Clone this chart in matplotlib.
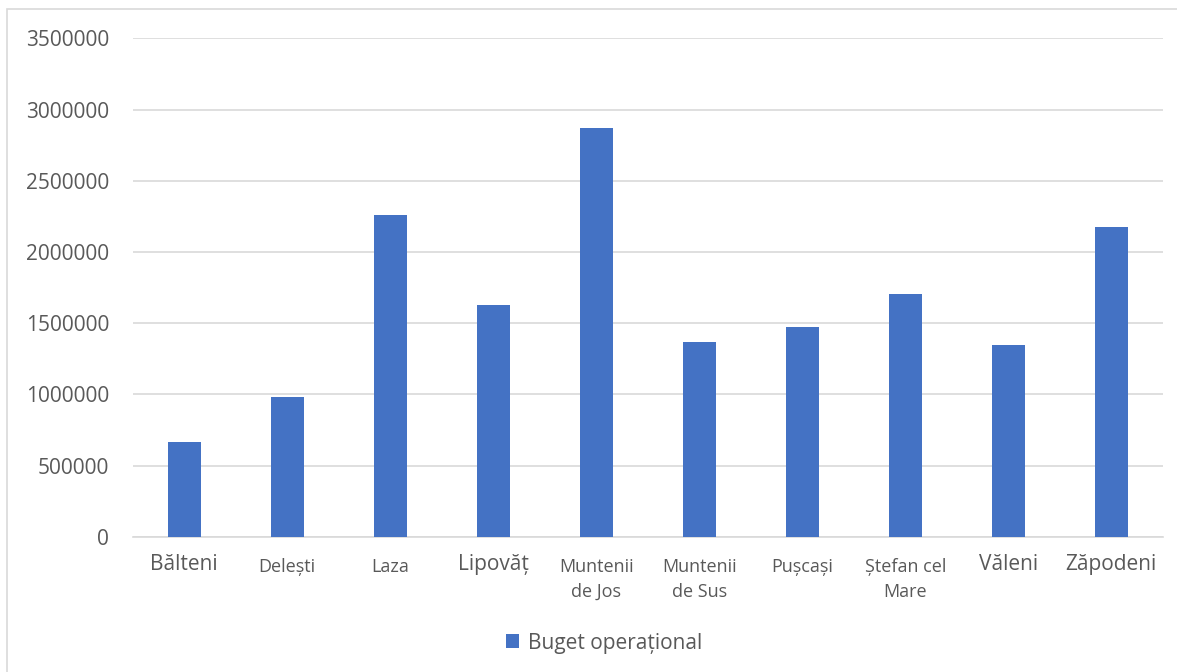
import matplotlib.pyplot as plt
from matplotlib.patches import Rectangle
from matplotlib.transforms import ScaledTranslation

# data
localitati = ["Bălteni", "Delești", "Laza", "Lipovăț", "Muntenii\nde Jos",
              "Muntenii\nde Sus", "Pușcași", "Ștefan cel\nMare", "Văleni", "Zăpodeni"]
buget = [667000, 983000, 2259000, 1627000, 2870000,
         1365000, 1470000, 1706000, 1346000, 2173000]
label_sizes = [15, 13, 13, 15, 13, 13, 13, 13, 15, 15]
y_ticks = [0, 500000, 1000000, 1500000, 2000000, 2500000, 3000000, 3500000]

bar_color = "#4472C4"
text_color = "#595959"
grid_color = "#D9D9D9"

plt.rcParams["font.family"] = ["Open Sans", "DejaVu Sans"]

fig = plt.figure(figsize=(11.77, 6.72), dpi=100)
ax = fig.add_axes([0.1127, 0.2013, 0.8752, 0.7417])

x = list(range(len(localitati)))
ax.bar(x, buget, width=0.32, color=bar_color, label="Buget operațional", zorder=3)

ax.set_xlim(-0.5, len(localitati) - 0.5)
ax.set_ylim(0, 3500000)
ax.set_yticks(y_ticks)
ax.set_yticklabels([str(v) for v in y_ticks])
ax.set_xticks(x)
ax.set_xticklabels(localitati)

ax.grid(axis="y", color=grid_color, linewidth=1.2, zorder=0)
for s in ["top", "right", "left"]:
    ax.spines[s].set_visible(False)
ax.spines["bottom"].set_color(grid_color)
ax.spines["bottom"].set_linewidth(1.2)

ax.tick_params(axis="both", length=0, colors=text_color)
ax.tick_params(axis="y", labelsize=15, pad=17)
ax.tick_params(axis="x", pad=12.5)
for lbl, size in zip(ax.get_xticklabels(), label_sizes):
    lbl.set_fontsize(size)
    lbl.set_linespacing(1.5)
    if size < 15:
        # smaller labels sit a little lower in the original
        lbl.set_transform(lbl.get_transform()
                          + ScaledTranslation(0, -3 / 72, fig.dpi_scale_trans))

leg = fig.legend(loc="center", bbox_to_anchor=(604 / 1177, 1 - 643 / 672),
                 frameon=False, fontsize=15, handlelength=0.65, handleheight=0.65,
                 handletextpad=0.4)
for t in leg.get_texts():
    t.set_color(text_color)

# light chart-area border
fig.patches.append(Rectangle((7 / 1177, -0.1), 1.2, 1.1 - 9 / 672,
                             transform=fig.transFigure, fill=False,
                             edgecolor=grid_color, linewidth=1.2))

fig.savefig("out.png", dpi=100, facecolor="white")
